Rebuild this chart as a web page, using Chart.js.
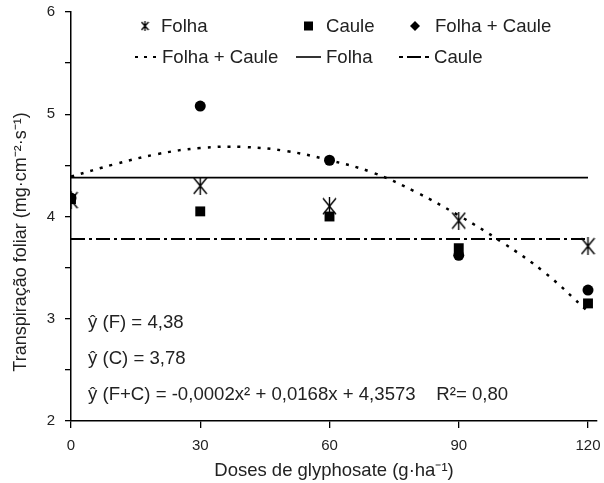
<!DOCTYPE html>
<html>
<head>
<meta charset="utf-8">
<script src="https://cdn.jsdelivr.net/npm/chart.js@4.4.1/dist/chart.umd.min.js"></script>
<style>
  html, body { margin: 0; padding: 0; background: #fff; }
  canvas { display: block; }
</style>
</head>
<body>
<canvas id="grafico" width="604" height="483"></canvas>
<script>
// Doses de glyphosate (g/ha)
const doses = [0, 30, 60, 90, 120];
// Transpiração foliar observada
const folha = [4.16, 4.30, 4.10, 3.96, 3.71];
const caule = [4.17, 4.05, 4.00, 3.69, 3.15];
const folhaCaule = [4.18, 5.08, 4.55, 3.62, 3.28];

// Curvas ajustadas
const retaDoses = [0, 120];
const folhaAjuste = [4.38, 4.38];
const cauleAjuste = [3.78, 3.78];
const curvaDoses = [0, 10, 20, 30, 40, 50, 60, 70, 80, 90, 100, 110, 120];
const folhaCauleAjuste = [4.39, 4.51, 4.61, 4.67, 4.68, 4.64, 4.55, 4.43, 4.24, 4.01, 3.75, 3.45, 3.07];

// Rótulos dos eixos
const xTicks = [0, 30, 60, 90, 120];
const yTicks = [2, 3, 4, 5, 6];

const tituloY = 'Transpiração foliar (mg·cm⁻²·s⁻¹)';
const equacoes = [
    'ŷ (F) = 4,38',
    'ŷ (C) = 3,78',
    'ŷ (F+C) = -0,0002x² + 0,0168x + 4,3573    R²= 0,80'
];

const fonte = '"Liberation Sans", Arial, sans-serif';
const corTexto = '#222';

function pares(xs, ys) {
    return xs.map((x, i) => ({ x: x, y: ys[i] }));
}

// Asterisco de 6 pontas (X + traço vertical)
function asterisco(w, h, lw) {
    const cv = document.createElement('canvas');
    cv.width = w; cv.height = h;
    const c = cv.getContext('2d');
    c.strokeStyle = '#000';
    c.lineWidth = lw;
    c.beginPath();
    c.moveTo(1, 1); c.lineTo(w - 1, h - 1);
    c.moveTo(w - 1, 1); c.lineTo(1, h - 1);
    c.moveTo(w / 2, 0); c.lineTo(w / 2, h);
    c.stroke();
    return cv;
}

// Legenda, título do eixo y e equações desenhados por cima do gráfico
const legendaEquacoes = {
    id: 'legendaEquacoes',
    afterDraw(chart) {
        const c = chart.ctx;
        c.save();
        c.fillStyle = corTexto;
        c.font = '18.6px ' + fonte;
        c.textBaseline = 'alphabetic';

        // linha 1: marcadores
        c.drawImage(asterisco(9, 10, 1.3), 140.5, 21);
        c.fillText('Folha', 161, 32);
        c.fillStyle = '#000';
        c.fillRect(304, 21.5, 9, 9);
        c.beginPath();
        c.moveTo(415, 21); c.lineTo(420, 26); c.lineTo(415, 31); c.lineTo(410, 26);
        c.closePath();
        c.fill();
        c.fillStyle = corTexto;
        c.fillText('Caule', 326, 32);
        c.fillText('Folha + Caule', 435, 32);

        // linha 2: linhas ajustadas
        c.strokeStyle = '#000';
        c.lineWidth = 2;
        c.setLineDash([3, 6]);
        c.beginPath(); c.moveTo(135, 57); c.lineTo(160, 57); c.stroke();
        c.setLineDash([]);
        c.lineWidth = 1.6;
        c.beginPath(); c.moveTo(296, 57); c.lineTo(321, 57); c.stroke();
        c.lineWidth = 2;
        c.setLineDash([4, 4, 14, 4]);
        c.beginPath(); c.moveTo(399, 57); c.lineTo(431, 57); c.stroke();
        c.setLineDash([]);
        c.fillText('Folha + Caule', 162, 63);
        c.fillText('Folha', 326, 63);
        c.fillText('Caule', 434, 63);

        // equações
        c.fillText(equacoes[0], 88, 328);
        c.fillText(equacoes[1], 88, 364);
        c.fillText(equacoes[2], 88, 400);

        // título do eixo y
        c.font = '18px ' + fonte;
        c.translate(21, 242);
        c.rotate(-Math.PI / 2);
        c.textAlign = 'center';
        c.textBaseline = 'middle';
        c.fillText(tituloY, 0, 0);
        c.restore();
    }
};

Chart.defaults.font.family = fonte;
Chart.defaults.color = corTexto;

const contexto = document.getElementById('grafico').getContext('2d');
const grafico = new Chart(contexto, {
    type: 'scatter',
    data: {
        datasets: [
            {
                label: 'Folha',
                data: pares(doses, folha),
                pointStyle: asterisco(15, 18, 1.4),
                order: 1
            },
            {
                label: 'Caule',
                data: pares(doses, caule),
                pointStyle: 'rect',
                pointRadius: 7,
                backgroundColor: '#000',
                borderColor: '#000',
                borderWidth: 0,
                order: 2
            },
            {
                label: 'Folha + Caule',
                data: pares(doses, folhaCaule),
                pointStyle: 'circle',
                pointRadius: 5.5,
                backgroundColor: '#000',
                borderColor: '#000',
                borderWidth: 0,
                order: 3
            },
            {
                label: 'Folha (ajuste)',
                type: 'line',
                data: pares(retaDoses, folhaAjuste),
                borderColor: '#000',
                borderWidth: 1.6,
                pointRadius: 0,
                order: 4
            },
            {
                label: 'Caule (ajuste)',
                type: 'line',
                data: pares(retaDoses, cauleAjuste),
                borderColor: '#000',
                borderWidth: 2,
                borderDash: [14, 4, 3, 4],
                pointRadius: 0,
                order: 5
            },
            {
                label: 'Folha + Caule (ajuste)',
                type: 'line',
                data: pares(curvaDoses, folhaCauleAjuste),
                borderColor: '#000',
                borderWidth: 2.5,
                borderDash: [3, 7],
                tension: 0.4,
                pointRadius: 0,
                order: 6
            }
        ]
    },
    options: {
        responsive: false,
        animation: false,
        layout: { padding: { top: 12, right: 0, bottom: 0, left: 0 } },
        plugins: {
            legend: { display: false },
            tooltip: { enabled: false }
        },
        scales: {
            x: {
                type: 'linear',
                bounds: 'data',
                min: 0,
                max: 123.7,
                afterBuildTicks: (s) => { s.ticks = xTicks.map(v => ({ value: v })); },
                afterFit: (s) => { s.height = 62; s.paddingLeft = 0; s.paddingRight = 0; },
                grid: { drawOnChartArea: false, drawTicks: true, tickLength: 7, color: '#000', lineWidth: 1.3 },
                border: { display: true, color: '#000', width: 1.5 },
                ticks: { autoSkip: false, maxRotation: 0, padding: 9, font: { size: 15 }, color: corTexto },
                title: {
                    display: true,
                    text: 'Doses de glyphosate (g·ha⁻¹)',
                    font: { size: 18.5 },
                    color: corTexto,
                    padding: { top: 0, bottom: 1 }
                }
            },
            y: {
                min: 2,
                max: 6,
                afterFit: (s) => { s.width = 71; s.paddingTop = 0; s.paddingBottom = 0; },
                grid: { drawOnChartArea: false, drawTicks: true, tickLength: 6, color: '#000', lineWidth: 1.3 },
                border: { display: true, color: '#000', width: 1.5 },
                ticks: {
                    stepSize: 0.5,
                    autoSkip: false,
                    padding: 10,
                    font: { size: 15 },
                    color: corTexto,
                    callback: (v) => yTicks.includes(v) ? String(v) : ''
                }
            }
        }
    },
    plugins: [legendaEquacoes]
});

// Ajusta o máximo do eixo x para que a dose 120 fique em x = 588 px, como no original
const area = grafico.chartArea;
grafico.options.scales.x.max = 120 * (area.right - area.left) / (588 - area.left);
grafico.update();
</script>
</body>
</html>
